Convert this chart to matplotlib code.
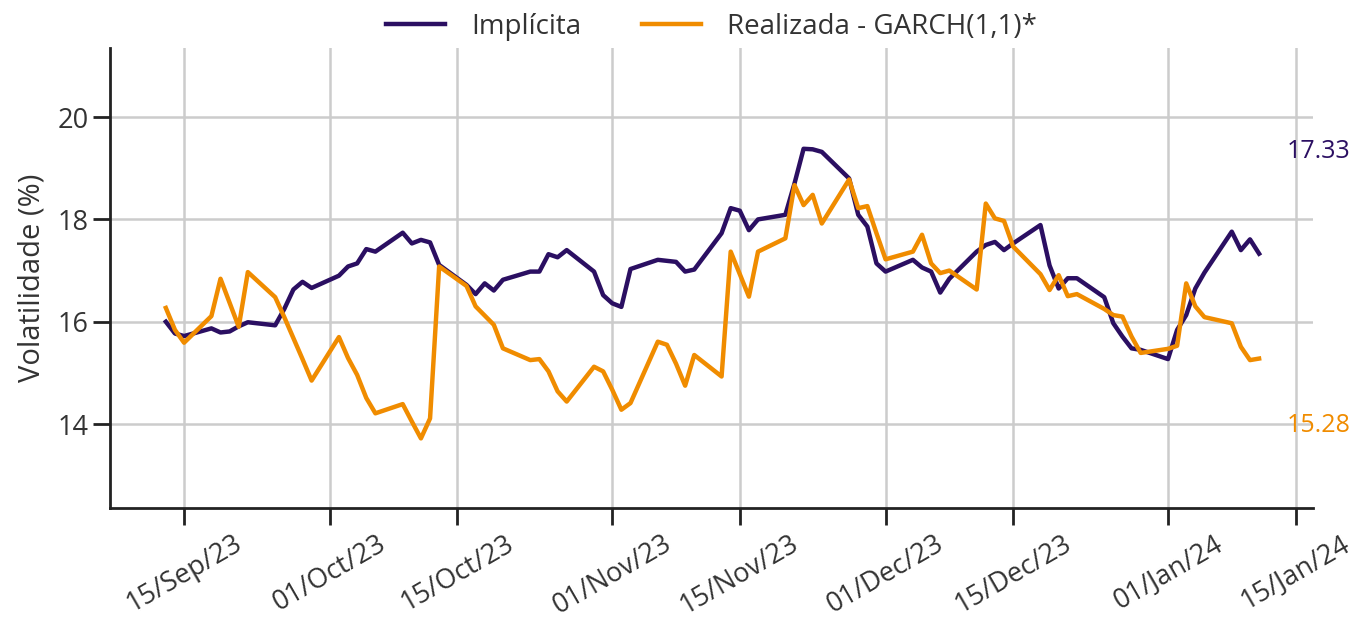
import matplotlib
matplotlib.use('Agg')
import matplotlib.pyplot as plt
import matplotlib.dates as mdates
import pandas as pd

plt.rcParams['font.family'] = ['Open Sans', 'DejaVu Sans']

# business days 13/Sep/23 .. 11/Jan/24
dates = pd.bdate_range('2023-09-13', '2024-01-11')

implicita = [
    16.00, 15.77, 15.72, 15.87, 15.79, 15.81, 15.91, 15.99, 15.93, 16.25, 16.63, 16.78, 16.66,
    16.90, 17.08, 17.14, 17.42, 17.37, 17.74, 17.53, 17.60, 17.55, 17.11, 16.72, 16.54, 16.75,
    16.61, 16.82, 16.98, 16.98, 17.32, 17.26, 17.40, 16.98, 16.52,
    16.36, 16.29, 17.03, 17.21, 17.19, 17.17, 16.98, 17.02, 17.73, 18.22, 18.17, 17.79, 18.00,
    18.09, 18.70, 19.38, 19.37, 19.32, 18.80, 18.09, 17.86, 17.14,
    16.98, 17.21, 17.06, 16.98, 16.57, 16.84, 17.37, 17.50, 17.56, 17.40, 17.53, 17.89, 17.10,
    16.65, 16.85, 16.85, 16.48, 15.97, 15.71, 15.48, 15.45,
    15.27, 15.84, 16.13, 16.65, 16.96, 17.76, 17.40, 17.61, 17.33,
]

garch = [
    16.27, 15.84, 15.59, 16.11, 16.84, 16.37, 15.90, 16.97, 16.48, 16.09, 15.68, 15.27, 14.85,
    15.70, 15.29, 14.96, 14.51, 14.21, 14.39, 14.05, 13.72, 14.11, 17.08, 16.70, 16.30, 16.12,
    15.94, 15.48, 15.25, 15.27, 15.03, 14.64, 14.44, 15.12, 15.03,
    14.67, 14.28, 14.41, 15.61, 15.55, 15.18, 14.75, 15.35, 14.93, 17.37, 16.93, 16.49, 17.37,
    17.63, 18.67, 18.28, 18.48, 17.92, 18.78, 18.22, 18.26, 17.73,
    17.22, 17.37, 17.70, 17.14, 16.95, 17.00, 16.63, 18.31, 18.02, 17.97, 17.47, 16.93, 16.62,
    16.91, 16.50, 16.54, 16.25, 16.13, 16.10, 15.71, 15.39,
    15.47, 15.53, 16.75, 16.30, 16.09, 15.97, 15.51, 15.25, 15.28,
]

c_impl = '#2b0f62'
c_garch = '#f08c00'

fig = plt.figure(figsize=(13.67, 6.3), dpi=100)
ax = fig.add_axes([0.0805, 0.1937, 0.88, 0.7301])

ax.plot(dates, implicita, color=c_impl, lw=3.2, label='Implícita', zorder=3)
ax.plot(dates, garch, color=c_garch, lw=3.2, label='Realizada - GARCH(1,1)*', zorder=3)

ax.set_xlim(pd.Timestamp('2023-09-06 21:00'), pd.Timestamp('2024-01-16 22:00'))
ax.set_ylim(12.36, 21.35)
ax.set_yticks([14, 16, 18, 20])
ax.xaxis.set_major_locator(mdates.DayLocator(bymonthday=[1, 15]))
ax.xaxis.set_major_formatter(mdates.DateFormatter('%d/%b/%y'))

ax.grid(True, color='#cccccc', lw=1.8)
ax.set_axisbelow(True)
for s in ['top', 'right']:
    ax.spines[s].set_visible(False)
for s in ['left', 'bottom']:
    ax.spines[s].set_linewidth(2)
    ax.spines[s].set_color('#222222')
ax.tick_params(axis='both', length=12, width=2, color='#222222', labelsize=19.5, labelcolor='#333333')
ax.tick_params(axis='x', labelrotation=30)
for lab in ax.get_xticklabels():
    lab.set_ha('center')

ax.set_ylabel('Volatilidade (%)', fontsize=21, color='#333333', labelpad=8)

# last values at the right edge
ax.text(pd.Timestamp('2024-01-14'), 19.33, f'{implicita[-1]:.2f}', color=c_impl, fontsize=18,
        ha='left', va='center', clip_on=False)
ax.text(pd.Timestamp('2024-01-14'), 13.98, f'{garch[-1]:.2f}', color=c_garch, fontsize=18,
        ha='left', va='center', clip_on=False)

ax.legend(loc='lower center', bbox_to_anchor=(0.5, 0.985), ncol=2, frameon=False, fontsize=20,
          handlelength=2.1, handletextpad=0.95, columnspacing=2.2, labelcolor='#333333',
          borderaxespad=0.1)

fig.savefig('out.png', dpi=100)
